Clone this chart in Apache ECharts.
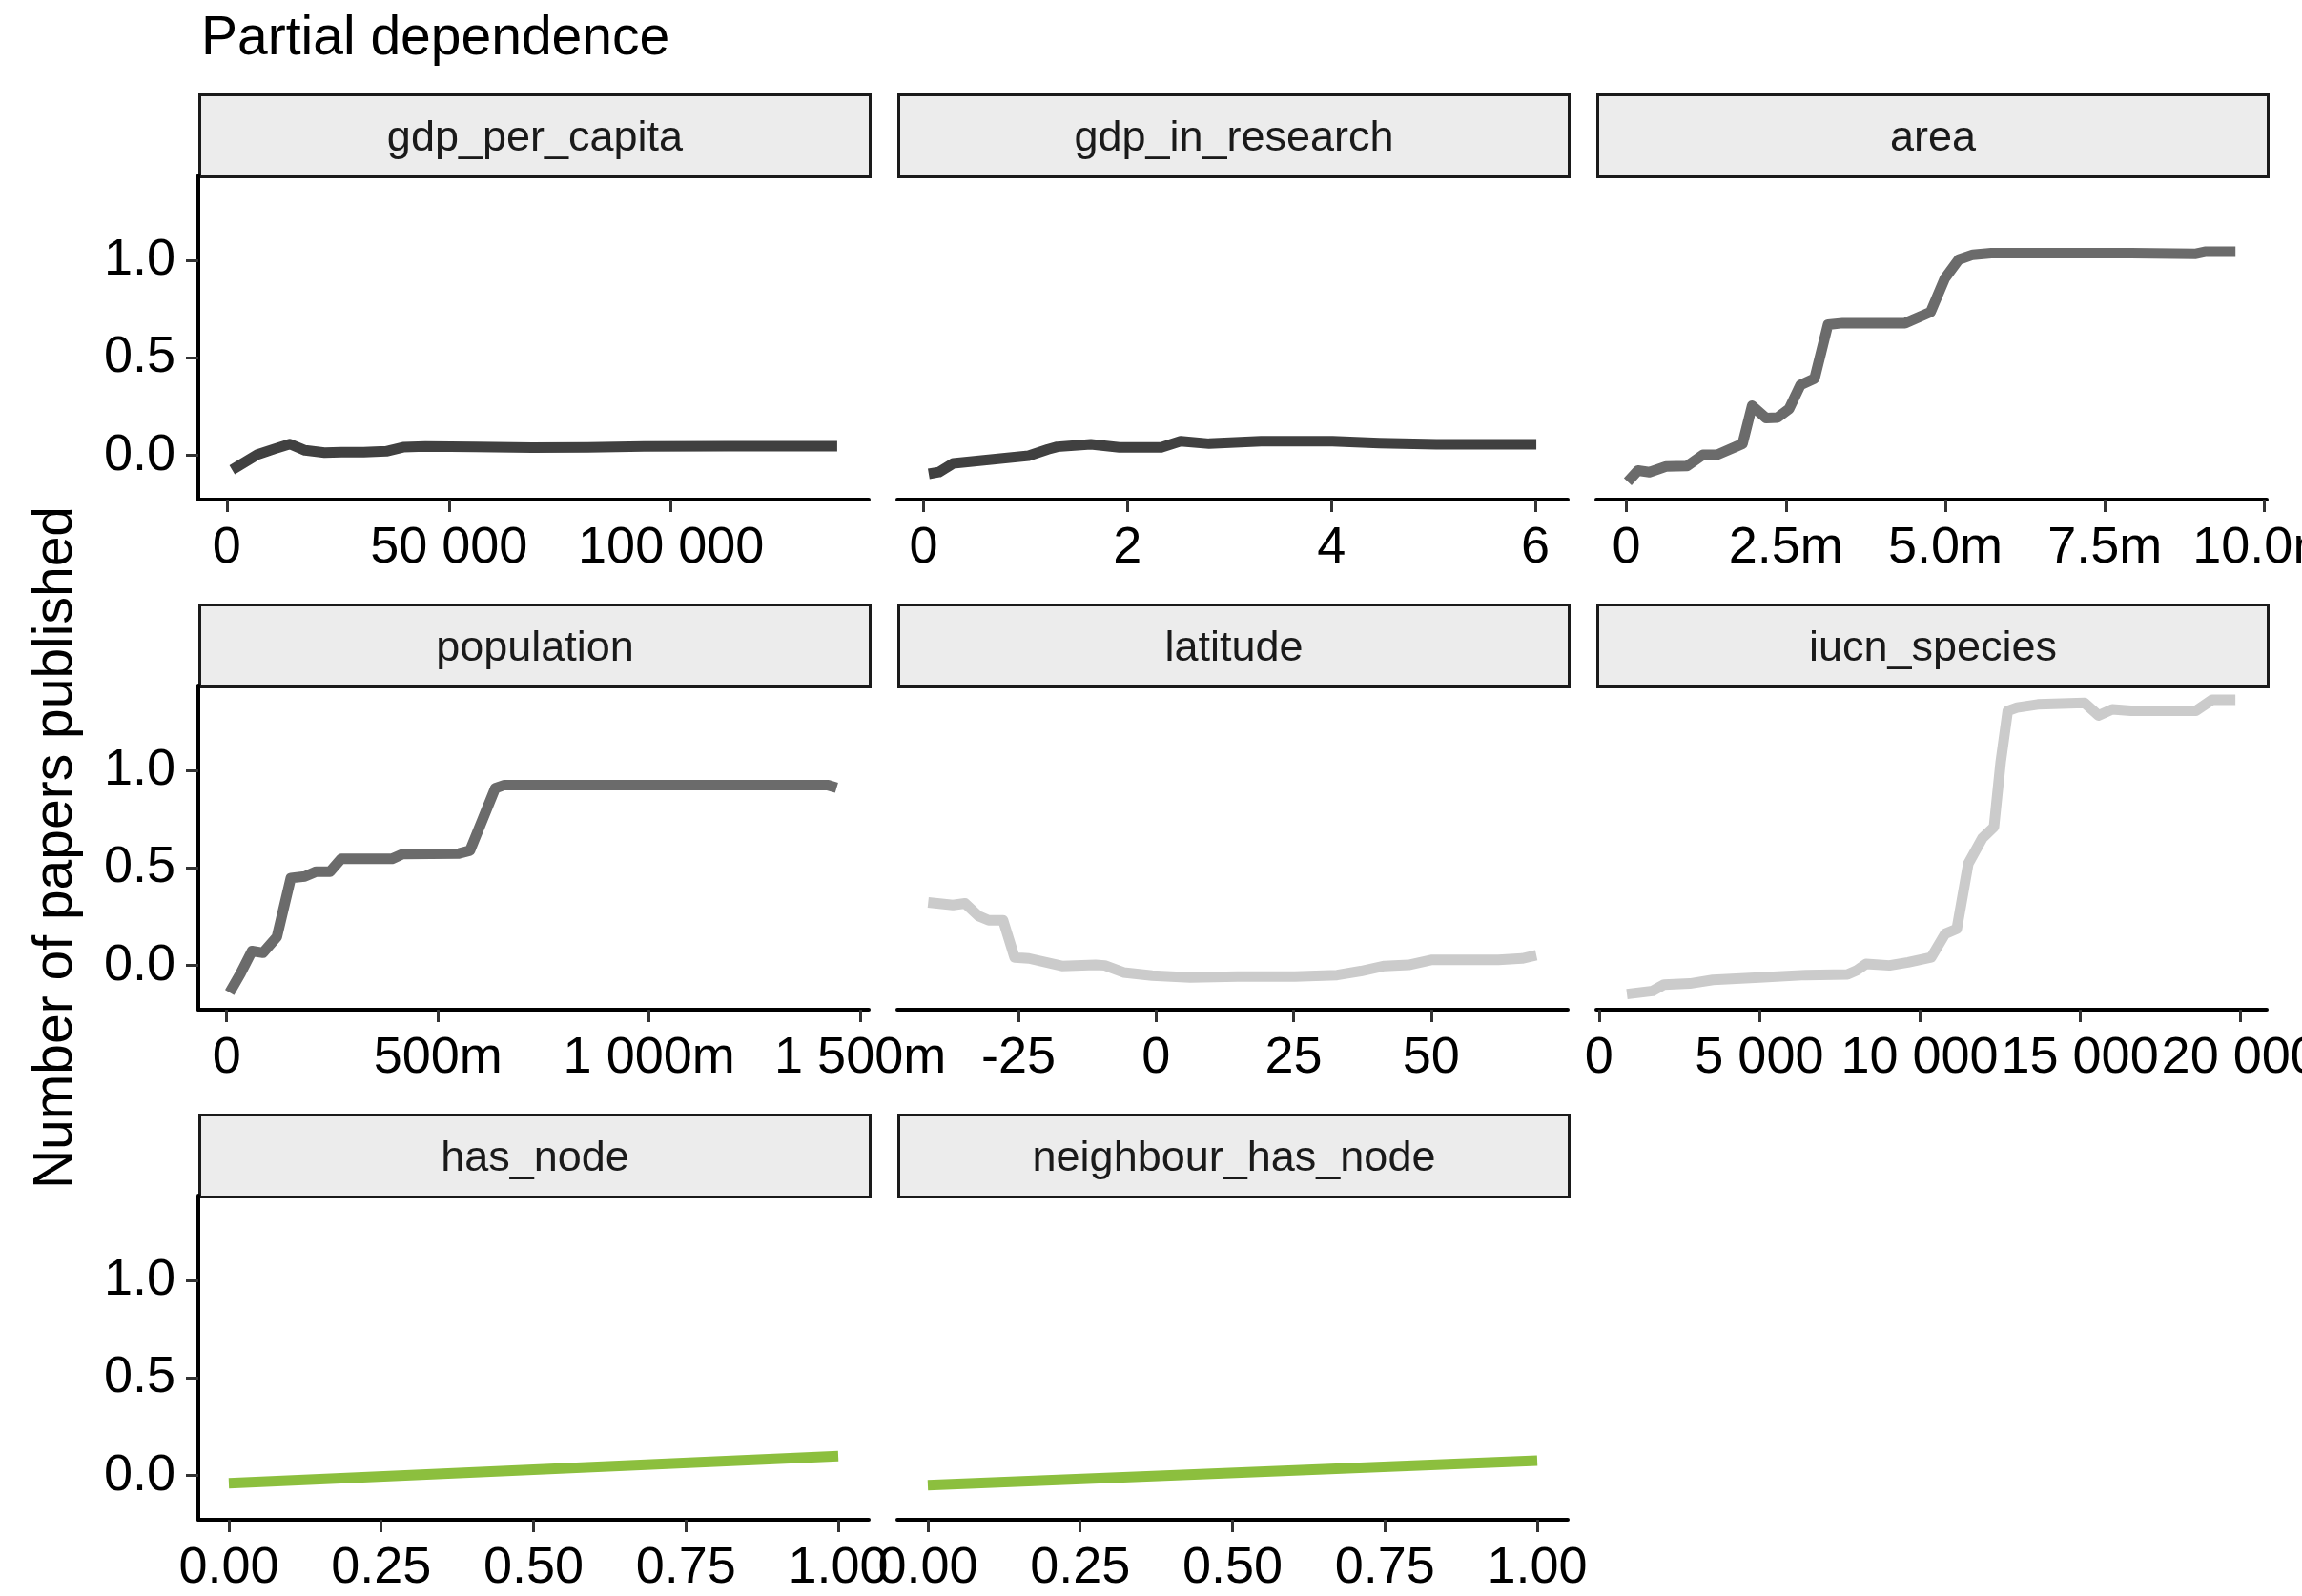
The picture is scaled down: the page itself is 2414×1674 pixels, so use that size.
<!DOCTYPE html>
<html>
<head>
<meta charset="utf-8">
<script src="https://cdn.jsdelivr.net/npm/echarts@6/dist/echarts.min.js"></script>
<style>
  html, body { margin: 0; padding: 0; background: #ffffff; }
  #chart { width: 2414px; height: 1674px; }
</style>
</head>
<body>
<div id="chart"></div>
<script>
// ---- Partial dependence curves, one pair of arrays per predictor ----
const gdpPerCapitaX = [1200, 6900, 10700, 14200, 17600, 22000, 25800, 30800, 35900, 39700, 44700, 56000, 68700, 81300, 93900, 112800, 137400];
const gdpPerCapitaY = [-0.074, 0.004, 0.033, 0.058, 0.026, 0.014, 0.016, 0.016, 0.021, 0.042, 0.046, 0.044, 0.040, 0.041, 0.046, 0.047, 0.047];

const gdpInResearchX = [0.05, 0.15, 0.29, 0.66, 1.03, 1.22, 1.31, 1.64, 1.92, 2.33, 2.52, 2.80, 3.31, 4.01, 4.47, 5.03, 6.01];
const gdpInResearchY = [-0.095, -0.086, -0.041, -0.021, -0.002, 0.031, 0.044, 0.057, 0.041, 0.041, 0.073, 0.060, 0.073, 0.073, 0.063, 0.057, 0.057];

const areaMillionsX = [0.02, 0.18, 0.36, 0.62, 0.95, 1.20, 1.42, 1.71, 1.82, 1.97, 2.19, 2.37, 2.55, 2.73, 2.95, 3.16, 3.39, 4.37, 4.77, 4.99, 5.21, 5.43, 5.72, 7.91, 8.93, 9.07, 9.55];
const areaY = [-0.135, -0.078, -0.086, -0.057, -0.054, 0.003, 0.003, 0.044, 0.060, 0.255, 0.191, 0.194, 0.239, 0.362, 0.395, 0.671, 0.679, 0.679, 0.736, 0.907, 1.005, 1.030, 1.038, 1.038, 1.035, 1.045, 1.045];

const populationMillionsX = [7, 33, 60, 86, 119, 152, 185, 212, 245, 271, 391, 417, 550, 576, 636, 656, 788, 1424, 1444];
const populationY = [-0.139, -0.041, 0.074, 0.065, 0.147, 0.449, 0.457, 0.482, 0.482, 0.547, 0.547, 0.572, 0.575, 0.590, 0.910, 0.925, 0.925, 0.925, 0.912];

const latitudeX = [-41.4, -36.9, -34.7, -32.2, -30.4, -27.8, -25.7, -23.1, -17.1, -11.0, -9.3, -5.9, -0.7, 6.2, 14.8, 25.2, 32.9, 37.2, 41.5, 45.9, 50.2, 62.2, 66.5, 69.1];
const latitudeY = [0.324, 0.310, 0.319, 0.253, 0.232, 0.232, 0.041, 0.036, -0.003, 0.003, 0.000, -0.036, -0.052, -0.062, -0.057, -0.057, -0.049, -0.029, -0.003, 0.003, 0.029, 0.029, 0.036, 0.052];

const iucnSpeciesX = [870, 1670, 2030, 2830, 3550, 5000, 6450, 7750, 8040, 8330, 9060, 9640, 10360, 10800, 11160, 11520, 11960, 12320, 12530, 12750, 13040, 13690, 15140, 15580, 16010, 16590, 18620, 19130, 19850];
const iucnSpeciesY = [-0.147, -0.131, -0.098, -0.093, -0.074, -0.062, -0.049, -0.046, -0.025, 0.008, 0.000, 0.016, 0.041, 0.163, 0.188, 0.523, 0.654, 0.711, 1.046, 1.307, 1.324, 1.340, 1.348, 1.283, 1.315, 1.307, 1.307, 1.364, 1.364];

const hasNodeX = [0, 1];
const hasNodeY = [-0.040, 0.100];

const neighbourHasNodeX = [0, 1];
const neighbourHasNodeY = [-0.050, 0.077];

// ---- Axis tick values ----
const yTicks = [0, 0.5, 1.0];
const gdpPerCapitaTicks = [0, 50000, 100000];
const gdpInResearchTicks = [0, 2, 4, 6];
const areaTicks = [0, 2.5, 5.0, 7.5, 10.0];
const populationTicks = [0, 500, 1000, 1500];
const latitudeTicks = [-25, 0, 25, 50];
const iucnSpeciesTicks = [0, 5000, 10000, 15000, 20000];
const binaryTicks = [0, 0.25, 0.5, 0.75, 1.0];

// ---- Number formatting helpers ----
function spaced(v) {
  return String(Math.round(v)).replace(/\B(?=(\d{3})+(?!\d))/g, ' ');
}
const fmtPlain = v => spaced(v);
const fmtInt = v => String(v);
const fmtArea = v => (v === 0 ? '0' : v.toFixed(1) + 'm');
const fmtPop = v => (v === 0 ? '0' : spaced(v) + 'm');
const fmtBinary = v => v.toFixed(2);

const DARK = '#404040', MID = '#6b6b6b', LIGHT = '#cbcbcb', GREEN = '#8cbf3e';

const panels = [
  { name: 'gdp_per_capita', x: gdpPerCapitaX, y: gdpPerCapitaY, ticks: gdpPerCapitaTicks, fmt: fmtPlain, min: -6400, max: 144500, color: DARK },
  { name: 'gdp_in_research', x: gdpInResearchX, y: gdpInResearchY, ticks: gdpInResearchTicks, fmt: fmtInt, min: -0.258, max: 6.318, color: DARK },
  { name: 'area', x: areaMillionsX, y: areaY, ticks: areaTicks, fmt: fmtArea, min: -0.473, max: 10.04, color: MID },
  { name: 'population', x: populationMillionsX, y: populationY, ticks: populationTicks, fmt: fmtPop, min: -67, max: 1520, color: MID },
  { name: 'latitude', x: latitudeX, y: latitudeY, ticks: latitudeTicks, fmt: fmtInt, min: -47.0, max: 74.8, color: LIGHT },
  { name: 'iucn_species', x: iucnSpeciesX, y: iucnSpeciesY, ticks: iucnSpeciesTicks, fmt: fmtPlain, min: -83, max: 20827, color: LIGHT },
  { name: 'has_node', x: hasNodeX, y: hasNodeY, ticks: binaryTicks, fmt: fmtBinary, min: -0.05, max: 1.05, color: GREEN },
  { name: 'neighbour_has_node', x: neighbourHasNodeX, y: neighbourHasNodeY, ticks: binaryTicks, fmt: fmtBinary, min: -0.05, max: 1.05, color: GREEN }
];

// ---- Facet layout (3 x 3 grid of panels) ----
const colLeft = [208, 941, 1674];
const rowTop = [184, 719, 1254];
const panelW = 703, panelH = 340, stripH = 86;
const yMin = -0.227, yMax = 1.437;
const FONT = '"Liberation Sans", Arial, Helvetica, sans-serif';

const grids = [], xAxes = [], yAxes = [], series = [], graphics = [];

panels.forEach((p, i) => {
  const col = i % 3, row = Math.floor(i / 3);
  const left = colLeft[col], top = rowTop[row];
  grids.push({ left: left, top: top, width: panelW, height: panelH, containLabel: false, outerBoundsMode: 'none' });

  xAxes.push({
    type: 'value', gridIndex: i, min: p.min, max: p.max,
    axisLine: { show: true, onZero: false, lineStyle: { color: '#000', width: 4 } },
    axisTick: { show: true, length: 13, customValues: p.ticks, lineStyle: { color: '#333', width: 3 } },
    axisLabel: { show: true, customValues: p.ticks, formatter: p.fmt, fontSize: 54, color: '#000', fontFamily: FONT, margin: 24, hideOverlap: false },
    splitLine: { show: false }
  });

  const showY = col === 0;
  yAxes.push({
    type: 'value', gridIndex: i, min: yMin, max: yMax,
    axisLine: { show: showY, onZero: false, lineStyle: { color: '#000', width: 4 } },
    axisTick: { show: showY, length: 13, customValues: yTicks, lineStyle: { color: '#333', width: 3 } },
    axisLabel: { show: showY, customValues: yTicks, formatter: v => v.toFixed(1), fontSize: 54, color: '#000', fontFamily: FONT, margin: 24 },
    splitLine: { show: false }
  });

  series.push({
    type: 'line', name: p.name, xAxisIndex: i, yAxisIndex: i,
    data: p.x.map((xv, k) => [xv, p.y[k]]),
    showSymbol: false, symbol: 'none', silent: true,
    lineStyle: { color: p.color, width: 11, join: 'round', cap: 'butt' }
  });

  // facet strip
  graphics.push({
    type: 'group', left: left, top: top - stripH, silent: true,
    children: [
      { type: 'rect', shape: { x: 0, y: 0, width: panelW, height: stripH },
        style: { fill: '#ececec', stroke: '#1a1a1a', lineWidth: 3 } },
      { type: 'text', x: panelW / 2, y: stripH / 2 + 3,
        style: { text: p.name, fill: '#1a1a1a', font: '45px ' + FONT, textAlign: 'center', textVerticalAlign: 'middle' } }
    ]
  });
});

// shared y-axis title
graphics.push({
  type: 'text', x: 59, y: 889, rotation: Math.PI / 2, silent: true,
  style: { text: 'Number of papers published', fill: '#000', font: '57px ' + FONT, textAlign: 'center', textVerticalAlign: 'middle' }
});

const chart = echarts.init(document.getElementById('chart'), null, { renderer: 'canvas' });
chart.setOption({
  animation: false,
  backgroundColor: '#ffffff',
  title: { text: 'Partial dependence', left: 206, top: 8, textStyle: { fontSize: 57, fontWeight: 'normal', color: '#000', fontFamily: FONT } },
  grid: grids,
  xAxis: xAxes,
  yAxis: yAxes,
  series: series,
  graphic: graphics
});
</script>
</body>
</html>
